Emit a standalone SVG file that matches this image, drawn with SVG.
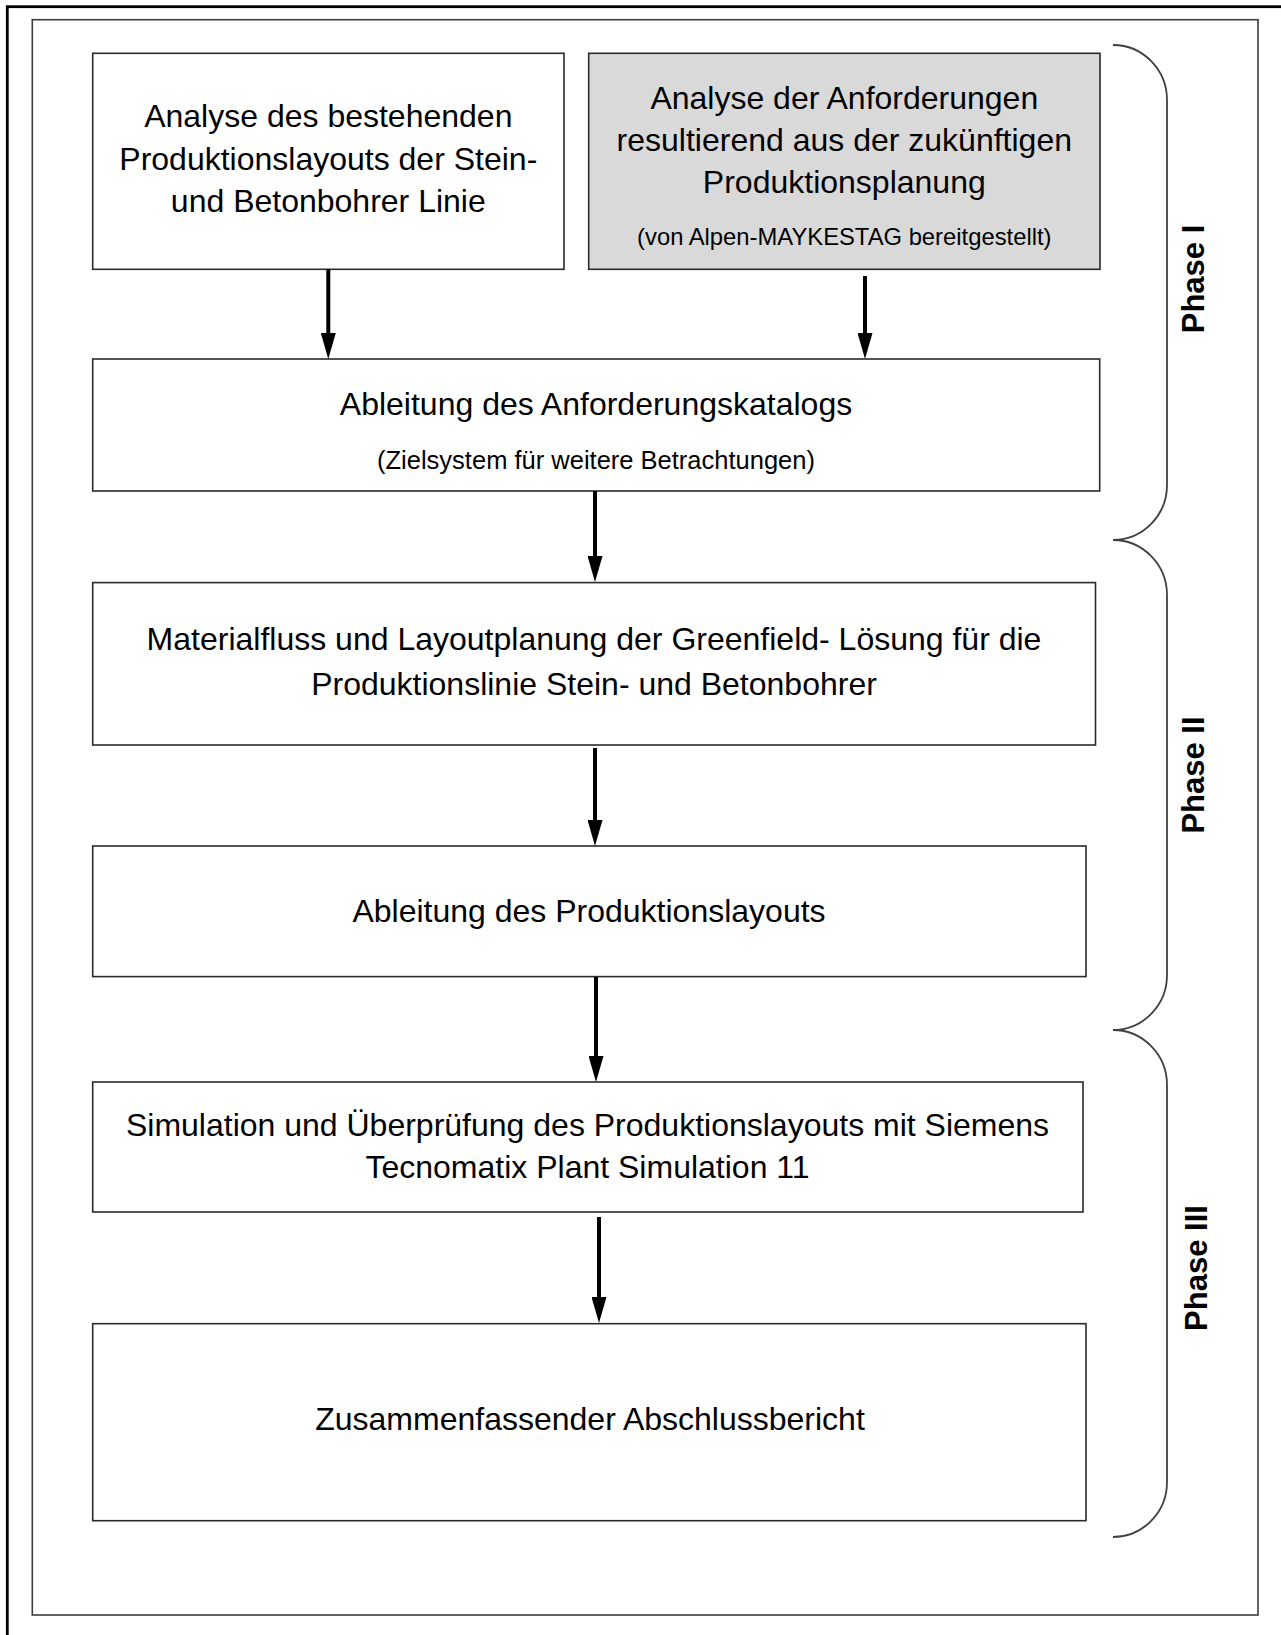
<svg xmlns="http://www.w3.org/2000/svg" width="1281" height="1635" viewBox="0 0 1281 1635">
  <style>
    .frame { fill: none; stroke: #3a3a3a; stroke-width: 1.6; }
    .box { fill: #ffffff; stroke: #2a2a2a; stroke-width: 1.6; }
    .box.grey { fill: #d9d9d9; }
    .t { font-family: "Liberation Sans", Arial, sans-serif; font-size: 32px; fill: #000; text-anchor: middle; }
    .s { font-family: "Liberation Sans", Arial, sans-serif; font-size: 23.8px; fill: #000; text-anchor: middle; }
    .s2 { font-family: "Liberation Sans", Arial, sans-serif; font-size: 25.5px; fill: #000; text-anchor: middle; }
    .phase { font-family: "Liberation Sans", Arial, sans-serif; font-size: 31px; font-weight: bold; fill: #000; text-anchor: middle; }
    .conn { stroke: #000; stroke-width: 4; fill: none; marker-end: url(#head); }
    .brace { fill: none; stroke: #404040; stroke-width: 1.8; }
  </style>
  <defs>
    <marker id="head" viewBox="0 0 26 15" refX="1" refY="7.5" markerWidth="26" markerHeight="15" markerUnits="userSpaceOnUse" orient="auto">
      <path d="M0,0 L26,7.5 L0,15 Z" fill="#000"/>
    </marker>
  </defs>

  <rect width="1281" height="1635" fill="#ffffff"/>

  <!-- outer border (open to the right and bottom) and inner frame -->
  <rect x="7.3" y="6.7" width="1320" height="1680" fill="none" stroke="#000" stroke-width="2.8"/>
  <rect class="frame" x="32.3" y="19.7" width="1225.7" height="1595.3"/>

  <g id="node-analyse-bestand">
    <rect class="box" x="92.7" y="53.3" width="471.3" height="216"/>
    <text class="t" x="328.3" y="127">Analyse des bestehenden</text>
    <text class="t" x="328.3" y="169.5">Produktionslayouts der Stein-</text>
    <text class="t" x="328.3" y="212">und Betonbohrer Linie</text>
  </g>

  <g id="node-analyse-anforderungen">
    <rect class="box grey" x="588.7" y="53.3" width="511.3" height="216"/>
    <text class="t" x="844.3" y="109">Analyse der Anforderungen</text>
    <text class="t" x="844.3" y="150.7">resultierend aus der zukünftigen</text>
    <text class="t" x="844.3" y="193.4">Produktionsplanung</text>
    <text class="s" x="844.3" y="244.6">(von Alpen-MAYKESTAG bereitgestellt)</text>
  </g>

  <g id="node-anforderungskatalog">
    <rect class="box" x="92.7" y="359" width="1007" height="132"/>
    <text class="t" x="596" y="415">Ableitung des Anforderungskatalogs</text>
    <text class="s2" x="596" y="469">(Zielsystem für weitere Betrachtungen)</text>
  </g>

  <g id="node-greenfield">
    <rect class="box" x="92.7" y="582.6" width="1002.8" height="162.4"/>
    <text class="t" x="594" y="650">Materialfluss und Layoutplanung der Greenfield- Lösung für die</text>
    <text class="t" x="594" y="695">Produktionslinie Stein- und Betonbohrer</text>
  </g>

  <g id="node-produktionslayout">
    <rect class="box" x="92.7" y="846" width="993.3" height="130.6"/>
    <text class="t" x="589" y="922">Ableitung des Produktionslayouts</text>
  </g>

  <g id="node-simulation">
    <rect class="box" x="92.7" y="1082" width="990.3" height="130"/>
    <text class="t" x="587.5" y="1136">Simulation und Überprüfung des Produktionslayouts mit Siemens</text>
    <text class="t" x="587.5" y="1178">Tecnomatix Plant Simulation 11</text>
  </g>

  <g id="node-abschlussbericht">
    <rect class="box" x="92.7" y="1323.7" width="993.3" height="197"/>
    <text class="t" x="590" y="1430">Zusammenfassender Abschlussbericht</text>
  </g>

  <g id="connectors">
    <line class="conn" x1="328.3" y1="269.3" x2="328.3" y2="334"/>
    <line class="conn" x1="865" y1="276" x2="865" y2="334"/>
    <line class="conn" x1="595" y1="491" x2="595" y2="557"/>
    <line class="conn" x1="595" y1="748" x2="595" y2="821"/>
    <line class="conn" x1="596" y1="977" x2="596" y2="1057"/>
    <line class="conn" x1="599" y1="1217" x2="599" y2="1298"/>
  </g>

  <g id="phases">
    <path class="brace" d="M1113,45 A54,55 0 0 1 1167,100 L1167,485 A54,55 0 0 1 1113,540 A54,55 0 0 1 1167,595 L1167,975 A54,55 0 0 1 1113,1030 A54,55 0 0 1 1167,1085 L1167,1482 A54,55 0 0 1 1113,1537"/>
    <text class="phase" transform="translate(1204,279) rotate(-90)">Phase I</text>
    <text class="phase" transform="translate(1204,775) rotate(-90)">Phase II</text>
    <text class="phase" transform="translate(1207,1268) rotate(-90)">Phase III</text>
  </g>
</svg>
